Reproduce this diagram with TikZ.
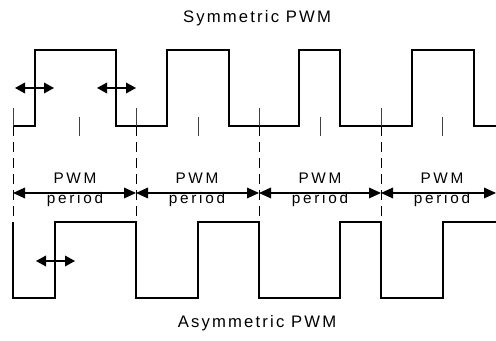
\documentclass[tikz,border=0pt]{standalone}
\usepackage{fontspec}
\setmainfont{Liberation Sans}
\usetikzlibrary{arrows.meta}

\begin{document}
\begin{tikzpicture}[
    x=0.75pt, y=-0.75pt,
    wave/.style={line width=1.5pt, line join=miter},
    tick/.style={line width=0.6pt, black!75},
    divider/.style={line width=0.7pt, dash pattern=on 7.5pt off 4.5pt},
    edgearrow/.style={{Triangle[length=7.5pt, width=8pt]}-{Triangle[length=7.5pt, width=8pt]}, line width=1pt},
    periodarrow/.style={{Triangle[length=9pt, width=8pt]}-{Triangle[length=9pt, width=8pt]}, line width=0.9pt},
    caption/.style={anchor=base, font=\fontsize{12.5}{15}\selectfont\addfontfeature{LetterSpace=13}},
    tag/.style={anchor=base, font=\fontsize{11.5}{14}\selectfont\addfontfeature{LetterSpace=18}},
]
\useasboundingbox (0,0) rectangle (496,341);

% === Titles ===
\node[caption] (sym) at (257, 23) {Symmetric PWM};
\node[caption] (asym) at (257, 328) {Asymmetric PWM};

% === Symmetric waveform ===
\draw[wave] (13,126) -- (35,126) -- (35,50) -- (116,50) -- (116,126)
    -- (167,126) -- (167,50) -- (229,50) -- (229,126)
    -- (299,126) -- (299,50) -- (340,50) -- (340,126)
    -- (412,126) -- (412,50) -- (474,50) -- (474,126) -- (496,126);

% centre ticks
\draw[tick] (79,117) -- (79,136);
\draw[tick] (198,117) -- (198,136);
\draw[tick] (320,117) -- (320,136);
\draw[tick] (442,117) -- (442,136);

% === Period boundaries ===
\coordinate (b0) at (13,193);
\coordinate (b1) at (136,193);
\coordinate (b2) at (259,193);
\coordinate (b3) at (381,193);
\coordinate (b4) at (496,193);

\draw[tick] (13,108) -- (13,126);
\draw[tick] (136,108) -- (136,126);
\draw[tick] (259,108) -- (259,126);
\draw[tick] (381,108) -- (381,126);

\draw[divider] (13,126) -- (13,222);
\draw[divider] (136,126) -- (136,222);
\draw[divider] (259,126) -- (259,222);
\draw[divider] (381,126) -- (381,222);

% === Edge shift arrows ===
\coordinate (s1a) at (15,88);
\coordinate (s1b) at (54,88);
\coordinate (s2a) at (97,88);
\coordinate (s2b) at (136,88);
\coordinate (s3a) at (36,261);
\coordinate (s3b) at (75,261);
\draw[edgearrow] (s1a) -- (s1b);
\draw[edgearrow] (s2a) -- (s2b);
\draw[edgearrow] (s3a) -- (s3b);

% === PWM periods ===
\draw[periodarrow] (b0) -- (b1);
\draw[periodarrow] (b1) -- (b2);
\draw[periodarrow] (b2) -- (b3);
\draw[periodarrow] (b3) -- (b4);

\node[tag] (pwm1) at (75,183.5) {PWM};
\node[tag] (per1) at (75,204) {period};
\node[tag] (pwm2) at (197,183.5) {PWM};
\node[tag] (per2) at (197,204) {period};
\node[tag] (pwm3) at (320,183.5) {PWM};
\node[tag] (per3) at (320,204) {period};
\node[tag] (pwm4) at (442,183.5) {PWM};
\node[tag] (per4) at (442,204) {period};

% === Asymmetric waveform ===
\draw[wave] (13,222) -- (13,298) -- (55,298) -- (55,222) -- (136,222)
    -- (136,298) -- (198,298) -- (198,222) -- (259,222)
    -- (259,298) -- (340,298) -- (340,222) -- (381,222)
    -- (381,298) -- (443,298) -- (443,222) -- (496,222);

\end{tikzpicture}
\end{document}
